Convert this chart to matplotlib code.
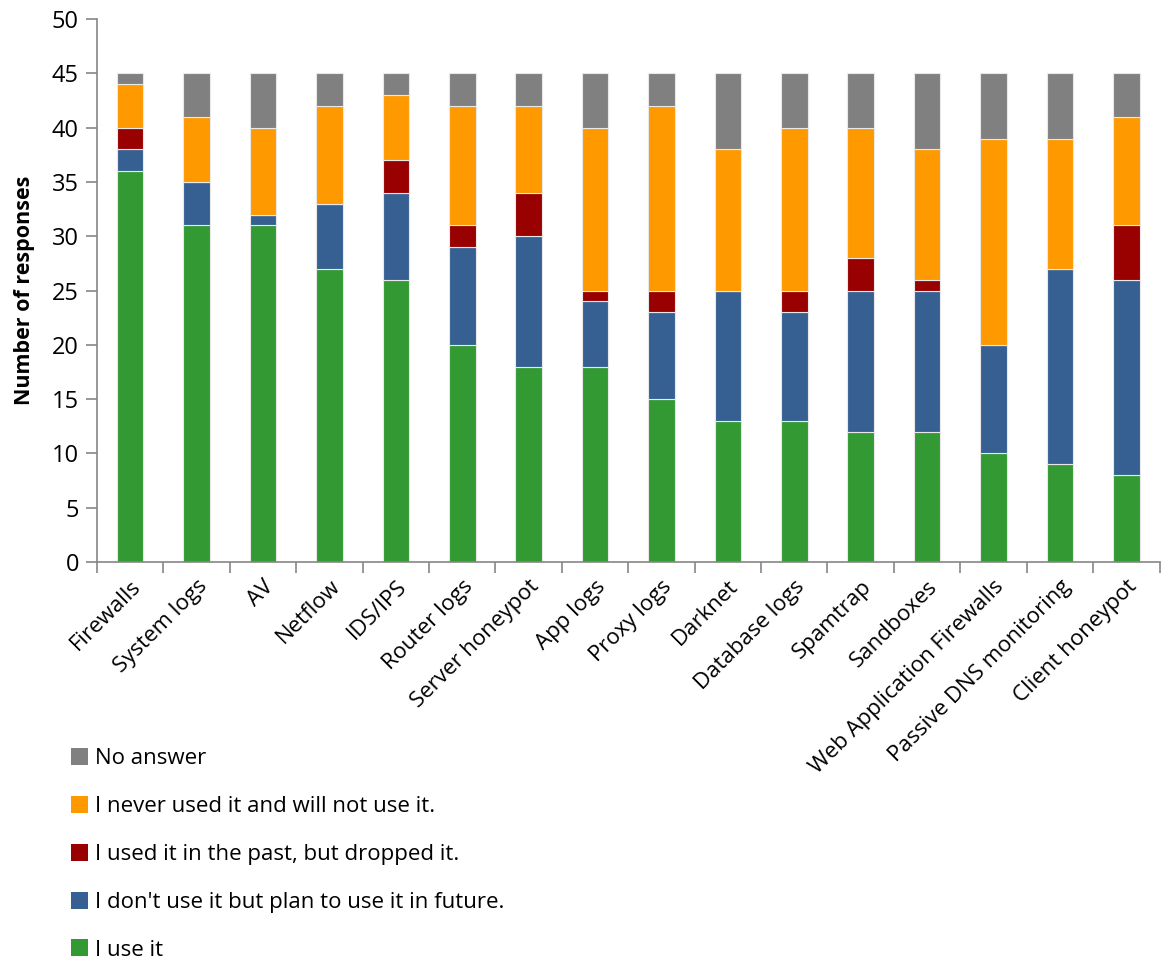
import numpy as np
import matplotlib
matplotlib.use("Agg")
import matplotlib.pyplot as plt
from matplotlib.patches import Patch

plt.rcParams['font.family'] = ['Open Sans', 'DejaVu Sans']

# --- Survey data: number of responses per data source ---
sources = ["Firewalls", "System logs", "AV", "Netflow", "IDS/IPS", "Router logs",
           "Server honeypot", "App logs", "Proxy logs", "Darknet", "Database logs",
           "Spamtrap", "Sandboxes", "Web Application Firewalls",
           "Passive DNS monitoring", "Client honeypot"]

use_it      = [36, 31, 31, 27, 26, 20, 18, 18, 15, 13, 13, 12, 12, 10, 9, 8]
plan_future = [2, 4, 1, 6, 8, 9, 12, 6, 8, 12, 10, 13, 13, 10, 18, 18]
dropped     = [2, 0, 0, 0, 3, 2, 4, 1, 2, 0, 2, 3, 1, 0, 0, 5]
never_use   = [4, 6, 8, 9, 6, 11, 8, 15, 17, 13, 15, 12, 12, 19, 12, 10]
no_answer   = [1, 4, 5, 3, 2, 3, 3, 5, 3, 7, 5, 5, 7, 6, 6, 4]

series = [
    ("I use it", use_it, "#339933"),
    ("I don't use it but plan to use it in future.", plan_future, "#376092"),
    ("I used it in the past, but dropped it.", dropped, "#990000"),
    ("I never used it and will not use it.", never_use, "#FF9900"),
    ("No answer", no_answer, "#808080"),
]

fig = plt.figure(figsize=(11.63, 9.61), dpi=100)
ax = fig.add_axes([0.0834, 0.4152, 0.9136, 0.5648])

x = np.arange(len(sources))
bottom = np.zeros(len(sources))
handles = []
for label, vals, color in series:
    vals = np.array(vals, dtype=float)
    ax.bar(x, vals, width=0.4, bottom=bottom, color=color,
           edgecolor="#e8e8e8", linewidth=0.8)
    bottom += vals
    handles.append(Patch(facecolor=color, edgecolor="none", label=label))

grey = "#868686"
ax.set_xlim(-0.5, len(sources) - 0.5)
ax.set_ylim(0, 50)
ax.set_yticks(np.arange(0, 51, 5))
ax.set_xticks(x)
ax.set_xticklabels(sources, rotation=45, ha="right", rotation_mode="anchor",
                   fontsize=16)
ax.set_xticks(np.arange(-0.5, len(sources), 1.0), minor=True)
ax.tick_params(axis="x", which="major", length=0, pad=10)
ax.tick_params(axis="x", which="minor", length=8, color=grey, width=1.2)
ax.tick_params(axis="y", length=8, color=grey, width=1.2, labelsize=17, pad=5)
for side in ["top", "right"]:
    ax.spines[side].set_visible(False)
for side in ["left", "bottom"]:
    ax.spines[side].set_color(grey)
    ax.spines[side].set_linewidth(1.2)

ax.set_ylabel("Number of responses", fontsize=15.5, fontweight="bold", labelpad=12)

# legend, top entry first
fig.legend(handles=handles[::-1], loc="upper left", bbox_to_anchor=(0.053, 0.231),
           frameon=False, fontsize=16, handlelength=0.8, handleheight=0.8,
           handletextpad=0.3, labelspacing=1.2, borderaxespad=0)

fig.savefig("out.png", dpi=100)
